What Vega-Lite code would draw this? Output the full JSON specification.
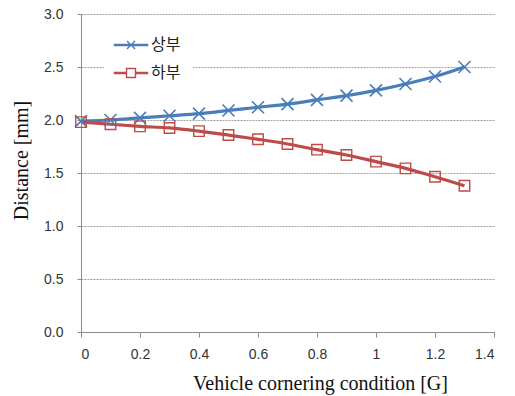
{
  "$schema": "https://vega.github.io/schema/vega-lite/v6.json",
  "width": 413,
  "height": 318,
  "autosize": "none",
  "padding": {"left": 81, "top": 14, "right": 21, "bottom": 64},
  "background": "white",
  "config": {
    "view": {"stroke": null},
    "axis": {
      "labelFont": "Liberation Sans",
      "labelFontSize": 14,
      "labelColor": "#333333",
      "titleFont": "Liberation Serif",
      "titleFontWeight": "normal",
      "titleColor": "#111111",
      "domainColor": "#8c8c8c",
      "tickColor": "#8c8c8c"
    }
  },
  "data": {
    "values": [
      {"g": 0.0, "series": "상부", "v": 1.99},
      {"g": 0.1, "series": "상부", "v": 2.00},
      {"g": 0.2, "series": "상부", "v": 2.02},
      {"g": 0.3, "series": "상부", "v": 2.04},
      {"g": 0.4, "series": "상부", "v": 2.06},
      {"g": 0.5, "series": "상부", "v": 2.09},
      {"g": 0.6, "series": "상부", "v": 2.12},
      {"g": 0.7, "series": "상부", "v": 2.15},
      {"g": 0.8, "series": "상부", "v": 2.19},
      {"g": 0.9, "series": "상부", "v": 2.23},
      {"g": 1.0, "series": "상부", "v": 2.28},
      {"g": 1.1, "series": "상부", "v": 2.34},
      {"g": 1.2, "series": "상부", "v": 2.41},
      {"g": 1.3, "series": "상부", "v": 2.50},
      {"g": 0.0, "series": "하부", "v": 1.98},
      {"g": 0.1, "series": "하부", "v": 1.96},
      {"g": 0.2, "series": "하부", "v": 1.94},
      {"g": 0.3, "series": "하부", "v": 1.925},
      {"g": 0.4, "series": "하부", "v": 1.895},
      {"g": 0.5, "series": "하부", "v": 1.858},
      {"g": 0.6, "series": "하부", "v": 1.818},
      {"g": 0.7, "series": "하부", "v": 1.774},
      {"g": 0.8, "series": "하부", "v": 1.72},
      {"g": 0.9, "series": "하부", "v": 1.67},
      {"g": 1.0, "series": "하부", "v": 1.607},
      {"g": 1.1, "series": "하부", "v": 1.544},
      {"g": 1.2, "series": "하부", "v": 1.465},
      {"g": 1.3, "series": "하부", "v": 1.38}
    ]
  },
  "encoding": {
    "x": {
      "field": "g",
      "type": "quantitative",
      "scale": {"domain": [0, 1.4], "nice": false},
      "axis": {
        "title": "Vehicle cornering condition [G]",
        "titleFontSize": 20,
        "values": [0, 0.2, 0.4, 0.6, 0.8, 1, 1.2, 1.4],
        "format": "~g",
        "grid": false,
        "tickSize": 5,
        "labelPadding": 10,
        "titleX": 239,
        "titleY": 57,
        "titleBaseline": "alphabetic"
      }
    },
    "y": {
      "field": "v",
      "type": "quantitative",
      "scale": {"domain": [0, 3], "nice": false},
      "axis": {
        "title": "Distance [mm]",
        "titleFontSize": 20,
        "values": [0, 0.5, 1, 1.5, 2, 2.5, 3],
        "format": ".1f",
        "grid": true,
        "gridColor": "#a0a0a0",
        "gridDash": [2, 1],
        "tickSize": 4,
        "labelPadding": 14,
        "titleX": -50,
        "titleY": 146
      }
    },
    "color": {
      "field": "series",
      "type": "nominal",
      "scale": {"domain": ["상부", "하부"], "range": ["#4a7ebb", "#be4b48"]},
      "legend": {
        "title": null,
        "orient": "none",
        "legendX": 23,
        "legendY": 4,
        "padding": 12,
        "fillColor": "white",
        "labelFont": "Noto Sans CJK KR",
        "labelFontSize": 16,
        "labelColor": "#222222",
        "labelOffset": 5,
        "symbolSize": 784,
        "symbolStrokeWidth": 1.4,
        "rowPadding": 5,
        "encode": {
          "symbols": {
            "update": {
              "shape": {"signal": "datum.value === '상부' ? 'M-1.18,-0.04H1.18V0.04H-1.18ZM-0.29,-0.29L0.29,0.29M-0.29,0.29L0.29,-0.29' : 'M-1.18,-0.04H-0.32V0.04H-1.18ZM0.32,-0.04H1.18V0.04H0.32ZM-0.32,-0.32H0.32V0.32H-0.32Z'"},
              "size": {"value": 784},
              "fill": {"value": "transparent"},
              "stroke": {"signal": "scale('color', datum.value)"},
              "strokeWidth": {"value": 1.4},
              "opacity": {"value": 1}
            }
          }
        }
      }
    }
  },
  "layer": [
    {
      "mark": {"type": "line", "strokeWidth": 3.2, "interpolate": "monotone"}
    },
    {
      "transform": [{"filter": "datum.series === '상부'"}],
      "mark": {"type": "point", "filled": false, "strokeWidth": 1.6, "opacity": 1, "shape": "M-1,-1L1,1M-1,1L1,-1", "size": 144}
    },
    {
      "transform": [{"filter": "datum.series === '하부'"}],
      "mark": {"type": "point", "filled": false, "strokeWidth": 1.4, "opacity": 1, "shape": "square", "size": 110}
    }
  ]
}
